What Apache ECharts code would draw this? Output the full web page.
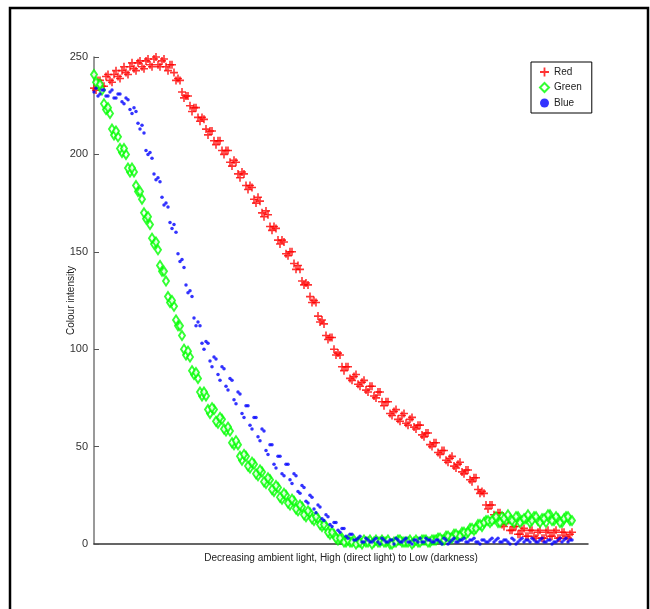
<!DOCTYPE html>
<html>
<head>
<meta charset="utf-8">
<script src="https://cdn.jsdelivr.net/npm/echarts@6/dist/echarts.min.js"></script>
<style>
  html, body { margin: 0; padding: 0; background: #fff; }
  #main { width: 650px; height: 609px; }
</style>
</head>
<body>
<div id="main"></div>
<script>
// sample spacing along the x axis (the original has no x tick labels)
// *A readings sit at x = 0, 4, 8 ..., *B readings at x = 2, 6, 10 ...
var step = 4
var xMax = 494

var redA = [
  234, 238, 235, 240, 238, 241, 240, 243, 242, 245,
  244, 247, 245, 248, 246, 249, 246, 248, 245, 246,
  242, 239, 232, 230, 225, 224, 219, 219, 213, 212,
  207, 207, 202, 202, 196, 197, 190, 191, 184, 184,
  177, 178, 170, 171, 163, 163, 156, 156, 149, 150,
  144, 143, 135, 134, 127, 125, 117, 115, 107, 106,
  100, 98, 91, 91, 85, 86, 82, 83, 79, 81,
  76, 78, 73, 73, 67, 68, 64, 66, 62, 64,
  60, 61, 56, 57, 51, 52, 47, 48, 43, 44,
  40, 41, 37, 38, 33, 34, 28, 27, 20, 20,
  15, 16, 10, 11, 7, 9, 5, 7, 4, 7,
  4, 6, 3, 6, 4, 6, 3, 6, 4, 5
]
var redB = [
  233, 238, 235, 241, 237, 243, 239, 245, 241, 247,
  243, 248, 244, 249, 245, 250, 245, 249, 243, 246,
  238, 238, 229, 230, 222, 224, 217, 218, 210, 212,
  205, 207, 200, 202, 194, 196, 188, 190, 182, 183,
  175, 176, 168, 169, 161, 162, 154, 155, 148, 150,
  141, 141, 133, 133, 124, 124, 114, 113, 105, 106,
  97, 97, 89, 91, 84, 87, 81, 84, 78, 81,
  75, 78, 71, 73, 66, 69, 63, 67, 61, 65,
  59, 61, 55, 57, 50, 52, 46, 48, 42, 45,
  39, 42, 36, 38, 32, 34, 26, 26, 18, 20,
  14, 16, 9, 12, 7, 9, 5, 8, 4, 7,
  3, 7, 3, 7, 4, 7, 3, 6, 3, 6
]

var greenA = [
  241, 236, 233, 223, 221, 210, 209, 201, 200, 191,
  191, 181, 177, 167, 164, 154, 151, 140, 135, 124,
  122, 112, 107, 97, 96, 87, 85, 76, 76, 67,
  69, 62, 64, 58, 58, 51, 51, 43, 45, 39,
  41, 35, 37, 31, 33, 27, 29, 23, 25, 20,
  22, 17, 19, 14, 16, 12, 13, 9, 9, 5,
  5, 2, 3, 1,
  1, 2, 1, 0, 1, 2, 1, 1, 2, 1,
  0, 1, 2, 1, 1, 2, 1, 1, 2, 2,
  1, 2,
  3, 2, 4, 3, 5, 4, 6, 5, 8, 7,
  10, 9, 12, 11,
  13, 11, 14, 12, 13, 11, 14, 12, 13, 11,
  14, 12, 13, 11, 15, 12, 13, 11, 14, 12
]
var greenB = [
  237, 236, 226, 224, 213, 212, 203, 203, 193, 193,
  184, 181, 170, 168, 157, 155, 143, 140, 127, 125,
  115, 112, 100, 99, 89, 88, 78, 78, 69, 70,
  63, 65, 59, 60, 52, 53, 45, 46, 40, 42,
  36, 38, 32, 34, 28, 30, 24, 26, 21, 23,
  18, 20, 15, 17, 13, 14, 10, 10, 6, 6,
  3, 3, 1,
  2, 1, 0, 1, 2, 1, 0, 2, 1, 1,
  2, 0, 1, 2, 1, 1, 0, 2, 1, 2,
  1, 2,
  2, 3, 2, 4, 3, 5, 4, 6, 6, 8,
  8, 10, 11, 12,
  12, 14, 11, 13, 15, 12, 14, 11, 13, 15,
  12, 14, 11, 13, 15, 12, 14, 11, 13, 14,
  12
]

var blueA = [
  232, 230, 233, 230, 232, 229, 231, 227, 229, 223,
  224, 216, 215, 202, 201, 190, 188, 178, 175, 165,
  164, 149, 146, 133, 130, 116, 114, 103, 104, 94,
  96, 87, 91, 81, 85, 74, 78, 67, 71, 61,
  65, 55, 59, 48, 51, 41, 45, 36, 41, 33,
  36, 27, 30, 22, 25, 18, 20, 13, 15, 10,
  11, 7, 8, 4, 5, 2, 3, 1, 3,
  1, 2, 1, 3, 1, 2, 0, 2, 1, 3,
  1, 2, 1, 1, 3, 2, 1, 2, 0, 2,
  1, 3, 1, 2, 1, 2, 3, 1, 2, 1,
  2, 1, 3, 1, 2, 0, 2, 1, 3, 2,
  1, 2, 1, 3, 1, 2, 1, 2, 1, 3,
  2
]
var blueB = [
  234, 231, 233, 230, 233, 229, 231, 226, 228, 221,
  222, 213, 211, 200, 198, 187, 186, 174, 173, 162,
  160, 145, 142, 129, 127, 112, 112, 100, 103, 91,
  95, 84, 90, 79, 84, 72, 77, 65, 71, 59,
  65, 53, 58, 46, 51, 39, 45, 35, 41, 31,
  35, 26, 29, 21, 24, 16, 19, 12, 14, 9,
  11, 6, 8, 3, 5, 2, 4, 1,
  2, 1, 3, 0, 2, 1, 2, 3, 1, 2,
  1, 0, 2, 3, 1, 2, 1, 2, 1, 3,
  0, 2, 1, 2, 3, 1, 2, 1, 0, 2,
  1, 3, 2, 1, 2, 1, 3, 0, 2, 1,
  2, 3, 1, 2, 1, 2, 0, 1, 3, 2,
  1, 2
]

var yTicks = [0, 50, 100, 150, 200, 250]

function pts(a, b) {
  var out = []
  a.forEach(function (v, i) { out.push([i * step, v]) })
  b.forEach(function (v, i) { out.push([i * step + step / 2, v]) })
  return out
}

var font = 'Liberation Sans Narrow, Liberation Sans, Arial, sans-serif'
var plus = 'path://M4,0H6V4H10V6H6V10H4V6H0V4H4Z'

var chart = echarts.init(document.getElementById('main'), null, { renderer: 'canvas' })

chart.setOption({
  animation: false,
  backgroundColor: '#ffffff',
  graphic: [{
    type: 'rect',
    shape: { x: 10, y: 8, width: 638, height: 610 },
    style: { fill: 'none', stroke: '#000', lineWidth: 2.5 },
    silent: true
  }],
  grid: { left: 94, top: 57, right: 62, bottom: 65 },
  legend: {
    orient: 'vertical',
    left: 531,
    top: 62,
    padding: [5, 10, 5, 8],
    itemGap: 5,
    itemWidth: 9,
    itemHeight: 9,
    borderColor: '#000',
    borderWidth: 1,
    textStyle: { fontFamily: font, fontSize: 10, color: '#222' },
    data: [
      { name: 'Red' },
      { name: 'Green' },
      { name: 'Blue', itemStyle: { color: '#0000ff' } }
    ]
  },
  xAxis: {
    type: 'value',
    min: 0,
    max: xMax,
    name: 'Decreasing ambient light, High (direct light) to Low (darkness)',
    nameLocation: 'middle',
    nameGap: 9,
    nameTextStyle: { fontFamily: font, fontSize: 10, color: '#222' },
    axisLine: { lineStyle: { color: '#333', width: 1.5 } },
    axisTick: { show: false },
    axisLabel: { show: false },
    splitLine: { show: false }
  },
  yAxis: {
    type: 'value',
    min: yTicks[0],
    max: yTicks[yTicks.length - 1],
    interval: 50,
    name: 'Colour intensity',
    nameLocation: 'middle',
    nameGap: 18,
    nameMoveOverlap: false,
    nameTextStyle: { fontFamily: font, fontSize: 10, color: '#222' },
    axisLine: { show: true, lineStyle: { color: '#777', width: 1.5 } },
    axisTick: { show: true, inside: true, length: 5, lineStyle: { color: '#555' } },
    axisLabel: { fontFamily: font, fontSize: 11, color: '#333', margin: 6 },
    splitLine: { show: false }
  },
  series: [
    {
      name: 'Red',
      type: 'scatter',
      symbol: plus,
      symbolSize: 8,
      itemStyle: { color: '#ff0000' },
      data: pts(redA, redB)
    },
    {
      name: 'Green',
      type: 'scatter',
      symbol: 'emptyDiamond',
      symbolSize: [6, 9],
      itemStyle: { color: '#00ff00', borderWidth: 1 },
      data: pts(greenA, greenB)
    },
    {
      name: 'Blue',
      type: 'scatter',
      symbol: 'circle',
      symbolSize: 3.5,
      itemStyle: { color: '#0000ff' },
      data: pts(blueA, blueB)
    }
  ]
})
</script>
</body>
</html>
